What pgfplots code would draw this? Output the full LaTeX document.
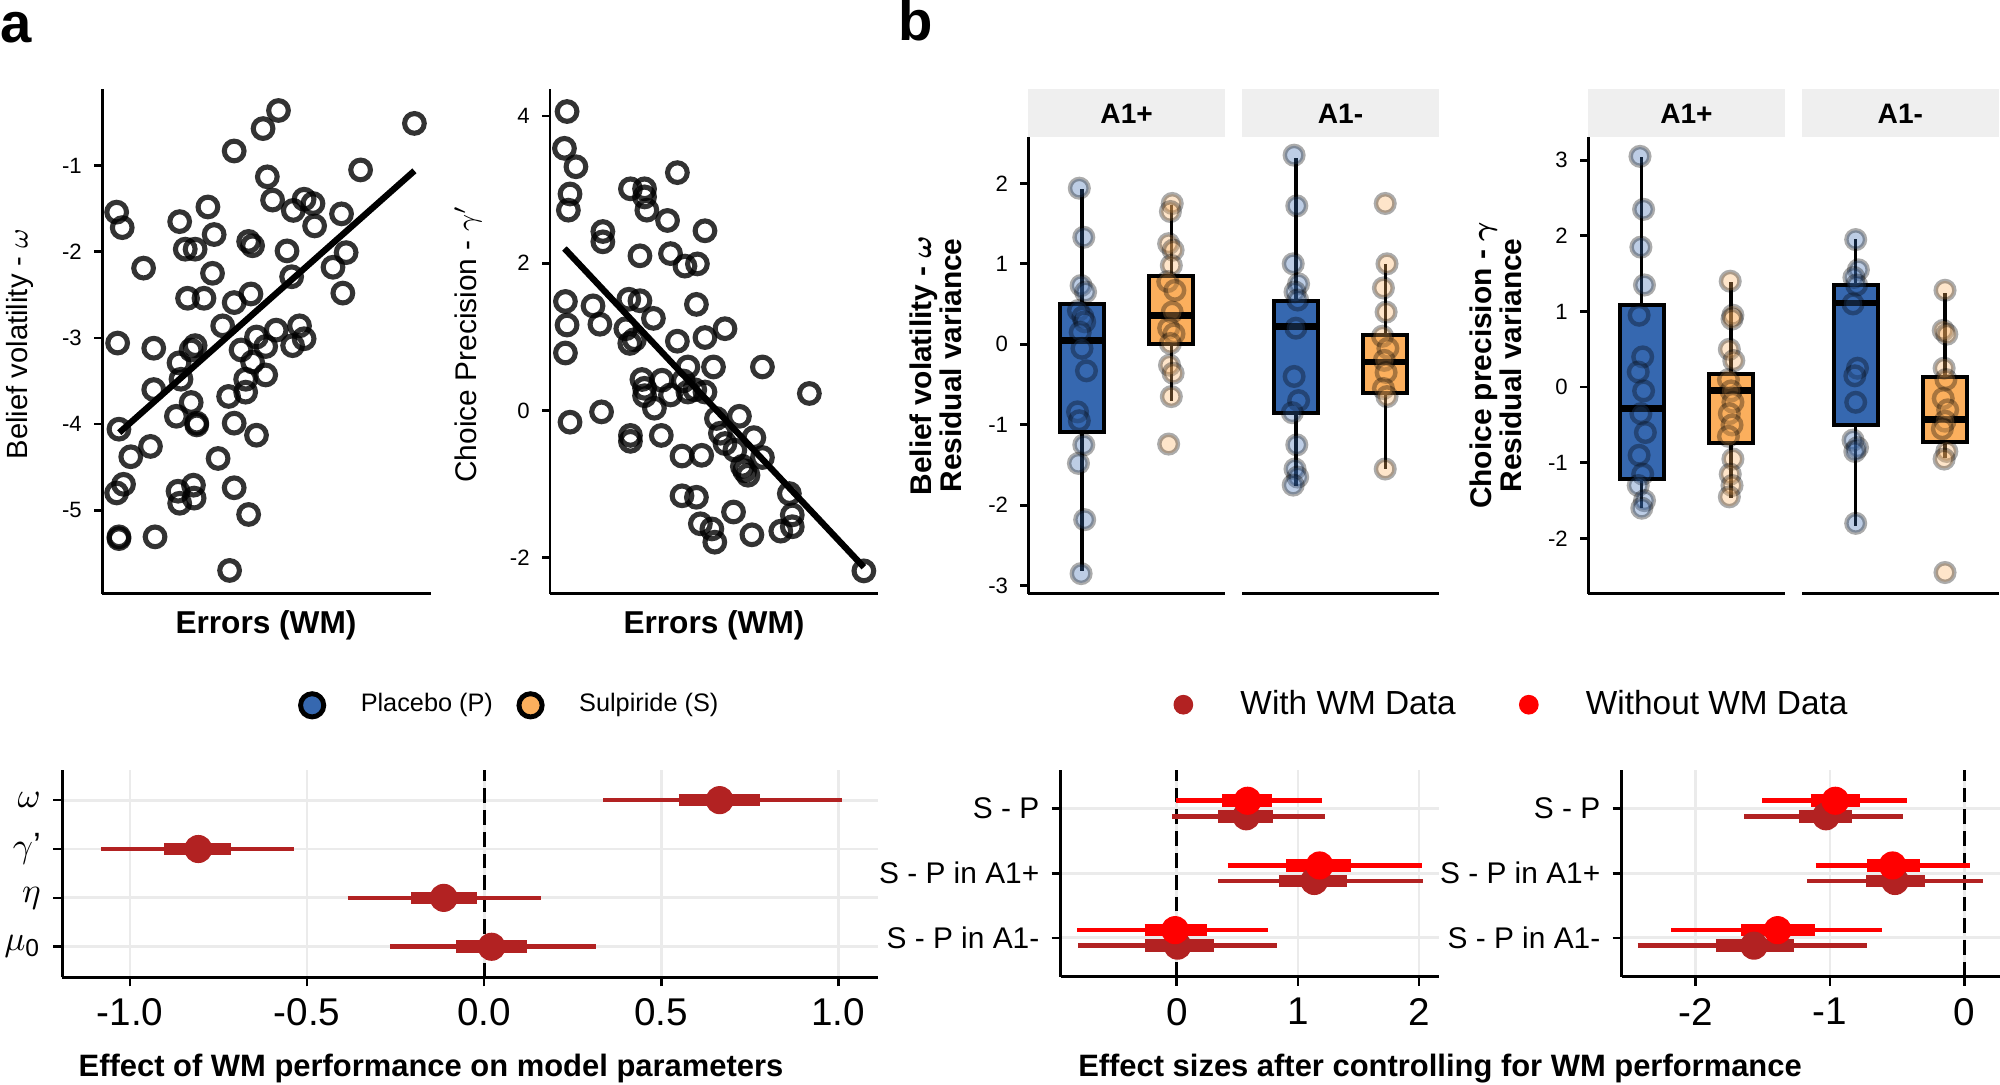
\documentclass[border=0pt]{standalone}
\usepackage{fontspec}
\setmainfont{Liberation Sans}
\usepackage{amsmath}
\usepackage{pgfplots}
\pgfplotsset{compat=1.18}
\usepgfplotslibrary{statistics}

\definecolor{pblue}{HTML}{3668B0}
\definecolor{sorange}{HTML}{FBAF5D}
\definecolor{withwm}{HTML}{B22222}
\definecolor{withoutwm}{HTML}{FF0000}
\definecolor{stripgrey}{HTML}{EFEFEF}
\definecolor{gridgrey}{HTML}{EBEBEB}

\newcommand\fs[1]{\fontsize{#1}{#1}\selectfont}

\pgfplotsset{
  panel/.style={
    scale only axis, anchor=south west,
    axis line style={-, line width=0.77pt},
    tick align=outside, major tick length=0.08cm,
    every tick/.style={black, line width=0.77pt},
    /pgf/number format/assume math mode=true,
  },
  scatterpanel/.style={panel, xmin=0, xmax=100, xtick=\empty,
    axis x line*=bottom, axis y line*=left,
    yticklabel style={font=\fs{6.3}},
    width=3.283cm, height=5.05cm},
  facet/.style={panel, xmin=0.4, xmax=2.6, xtick=\empty,
    axis x line*=bottom, width=1.965cm, height=4.57cm,
    yticklabel style={font=\fs{6.3}}},
  ring/.style={only marks, mark=o, mark size=2.8pt,
    mark options={draw=black, draw opacity=0.8, line width=1.45pt}},
  jit/.style={only marks, mark=*, mark size=2.65pt, forget plot,
    mark options={fill=#1, draw=black, line width=1.25pt, opacity=0.33}},
  bx/.style={fill=#1, draw=black, line width=1.14pt, forget plot},
  forest/.style={panel, axis x line*=bottom, axis y line*=left,
    height=2.07cm, xmajorgrids, ymajorgrids,
    grid style={gridgrey, line width=0.8pt},
    major tick length=0.09cm,
    xticklabel style={font=\fs{11}},
    yticklabel style={font=\fs{8.5}}},
  thinci/.style={#1, line width=1.3pt, unbounded coords=jump, forget plot},
  thickci/.style={#1, line width=3.6pt, unbounded coords=jump, forget plot},
  dot/.style={only marks, mark=*, mark size=3.8pt, color=#1, forget plot},
  zeroline/.style={black, line width=0.9pt, dash pattern=on 4.2pt off 2pt, forget plot},
  boxplot/draw direction=y,
  boxplot/box extend=0.49,
  boxplot/whisker extend=0,
  boxplot/every median/.style={line width=1.9pt},
  boxplot/every whisker/.style={line width=0.95pt},
}

\begin{document}
\begin{tikzpicture}
\useasboundingbox (0,0) rectangle (20,10.84);

% ---------------- panel a ----------------
\node[anchor=base west, inner sep=0, font=\fs{16}\bfseries] at (0.0,10.42) {a};
\node[anchor=base west, inner sep=0, font=\fs{16}\bfseries] at (8.98,10.44) {b};

\begin{axis}[scatterpanel, at={(1.022cm,4.903cm)},
  ymin=-5.97, ymax=-0.107, ytick={-5,-4,-3,-2,-1}]
\addplot[ring] coordinates {
(95.1,-0.51) (53.7,-0.36) (49.0,-0.57) (40.2,-0.83) (78.7,-1.05) (4.4,-1.54)
(6.1,-1.72) (50.3,-1.13) (51.9,-1.40) (32.2,-1.48) (23.6,-1.65) (34.1,-1.80)
(58.2,-1.52) (61.5,-1.39) (64.2,-1.44) (64.7,-1.70) (72.9,-1.56) (74.3,-2.01)
(70.3,-2.18) (73.3,-2.48) (12.6,-2.19) (25.3,-1.97) (28.3,-1.97) (44.6,-1.88)
(45.8,-1.93) (56.3,-1.99) (57.7,-2.29) (33.6,-2.25) (26.0,-2.54) (31.0,-2.54)
(45.3,-2.49) (40.2,-2.59) (36.7,-2.86) (53.0,-2.91) (60.1,-2.86) (61.5,-3.01)
(58.0,-3.09) (47.0,-2.99) (49.8,-3.10) (42.3,-3.14) (45.8,-3.28) (4.7,-3.06)
(15.7,-3.12) (28.3,-3.09) (27.1,-3.14) (23.4,-3.29) (49.8,-3.43) (43.7,-3.48)
(24.0,-3.48) (15.7,-3.60) (43.7,-3.63) (38.5,-3.68) (27.1,-3.75) (22.6,-3.91)
(28.8,-3.99) (28.8,-4.01) (40.2,-3.99) (47.0,-4.13) (5.1,-4.06) (8.7,-4.38)
(14.7,-4.26) (35.3,-4.40) (6.5,-4.70) (4.4,-4.80) (23.1,-4.78) (27.8,-4.71)
(23.6,-4.92) (28.0,-4.86) (40.2,-4.74) (44.6,-5.05) (5.1,-5.31) (5.1,-5.33)
(16.1,-5.31) (38.8,-5.70)
};
\addplot[black, line width=1.8pt] coordinates {(5.2,-4.10) (95.1,-1.06)};
\end{axis}
\node[rotate=90, font=\fs{8.3}] at (0.20,7.40) {Belief volatility - $\omega$};
\node[font=\fs{9}\bfseries] at (2.66,4.59) {Errors (WM)};

\begin{axis}[scatterpanel, at={(5.50cm,4.903cm)},
  ymin=-2.49, ymax=4.37, ytick={-2,0,2,4}]
\addplot[ring] coordinates {
(5.2,4.06) (4.4,3.56) (7.9,3.31) (6.1,2.94) (5.6,2.72) (38.8,3.23) (24.5,3.01)
(28.8,3.01) (28.8,2.90) (29.5,2.72) (35.8,2.58) (16.1,2.43) (16.1,2.29)
(47.2,2.44) (27.4,2.10) (36.7,2.13) (41.1,1.96) (44.9,1.99) (4.7,1.48)
(13.1,1.42) (5.2,1.16) (15.2,1.17) (24.0,1.51) (27.4,1.49) (31.5,1.25)
(44.6,1.44) (53.3,1.11) (23.1,1.11) (24.3,0.91) (25.7,0.96) (38.8,0.94)
(47.2,0.99) (4.7,0.78) (42.0,0.59) (49.8,0.59) (64.7,0.59) (28.0,0.42)
(34.1,0.41) (28.8,0.30) (28.8,0.20) (40.6,0.40) (44.1,0.28) (36.7,0.21)
(42.0,0.25) (47.2,0.25) (31.8,0.03) (79.0,0.23) (6.1,-0.16) (15.7,-0.02)
(24.5,-0.34) (24.5,-0.42) (33.9,-0.34) (50.7,-0.11) (57.7,-0.08) (51.9,-0.31)
(53.3,-0.45) (62.1,-0.37) (40.2,-0.62) (46.2,-0.61) (56.3,-0.54) (64.7,-0.64)
(58.6,-0.76) (60.3,-0.88) (59.3,-0.82) (40.2,-1.16) (44.6,-1.18) (72.9,-1.13)
(55.9,-1.38) (45.8,-1.54) (49.3,-1.61) (50.2,-1.79) (61.5,-1.69) (70.3,-1.64)
(73.8,-1.58) (73.8,-1.42) (95.6,-2.18)
};
\addplot[black, line width=1.8pt] coordinates {(4.4,2.20) (95.6,-2.13)};
\end{axis}
\node[rotate=90, font=\fs{8.5}] at (4.68,7.40) {Choice Precision - $\gamma'$};
\node[font=\fs{9}\bfseries] at (7.14,4.59) {Errors (WM)};

% ---------------- panel b ----------------
\foreach \x in {10.284,12.423,15.882,18.021}{
  \fill[stripgrey] (\x,9.473) rectangle ++(1.965,0.479);
}
\foreach \x/\t in {10.284/A1+,12.423/A1-,15.882/A1+,18.021/A1-}{
  \node[font=\fs{8}\bfseries] at (\x+0.9825,9.70) {\t};
}

\begin{axis}[facet, at={(10.284cm,4.903cm)}, axis y line*=left,
  ymin=-3.10, ymax=2.58, ytick={-3,-2,-1,0,1,2}]
\addplot[bx=pblue, boxplot prepared={draw position=1,
    lower whisker=-2.82, lower quartile=-1.09, median=0.05,
    upper quartile=0.50, upper whisker=1.93}] coordinates {};
\addplot[bx=sorange, boxplot prepared={draw position=2,
    lower whisker=-0.70, lower quartile=0.00, median=0.36,
    upper quartile=0.85, upper whisker=1.73}] coordinates {};
\addplot[jit=pblue] coordinates {
(0.97,1.94) (1.02,1.33) (0.99,0.73) (1.04,0.65) (0.96,0.42) (1.01,0.34)
(1.03,0.28) (0.98,0.15) (1.00,-0.05) (1.05,-0.33) (0.95,-0.84) (0.97,-0.95)
(1.02,-1.25) (0.96,-1.48) (1.03,-2.18) (0.99,-2.85)};
\addplot[jit=sorange] coordinates {
(2.01,1.75) (1.99,1.65) (1.97,1.25) (2.02,1.17) (2.00,0.98) (1.96,0.78)
(2.04,0.67) (2.01,0.40) (1.97,0.20) (2.03,0.13) (1.99,0.01) (1.98,-0.26)
(2.02,-0.36) (2.00,-0.65) (1.97,-1.24)};
\end{axis}

\begin{axis}[facet, at={(12.423cm,4.903cm)}, axis y line=none,
  ymin=-3.10, ymax=2.58, ytick=\empty]
\addplot[bx=pblue, boxplot prepared={draw position=1,
    lower whisker=-1.76, lower quartile=-0.85, median=0.22,
    upper quartile=0.54, upper whisker=2.32}] coordinates {};
\addplot[bx=sorange, boxplot prepared={draw position=2,
    lower whisker=-1.55, lower quartile=-0.61, median=-0.22,
    upper quartile=0.11, upper whisker=1.00}] coordinates {};
\addplot[jit=pblue] coordinates {
(0.98,2.35) (1.01,1.72) (0.97,1.00) (1.03,0.75) (0.99,0.65) (1.02,0.55)
(1.00,0.20) (0.98,-0.40) (1.03,-0.70) (0.96,-0.85) (1.01,-1.25) (0.99,-1.55)
(1.02,-1.65) (0.97,-1.75)};
\addplot[jit=sorange] coordinates {
(2.00,1.75) (2.02,1.00) (1.98,0.70) (2.01,0.40) (1.97,0.10) (2.03,-0.05)
(1.99,-0.20) (2.01,-0.35) (1.98,-0.55) (2.02,-0.65) (2.00,-1.55)};
\end{axis}
\node[rotate=90, align=center, font=\fontsize{8.5}{8.6}\selectfont\bfseries\boldmath]
  at (9.355,7.185) {Belief volatility - $\omega$\\Residual variance};

\begin{axis}[facet, at={(15.882cm,4.903cm)}, axis y line*=left,
  ymin=-2.73, ymax=3.31, ytick={-2,-1,0,1,2,3}]
\addplot[bx=pblue, boxplot prepared={draw position=1,
    lower whisker=-1.60, lower quartile=-1.21, median=-0.28,
    upper quartile=1.08, upper whisker=3.04}] coordinates {};
\addplot[bx=sorange, boxplot prepared={draw position=2,
    lower whisker=-1.46, lower quartile=-0.74, median=-0.04,
    upper quartile=0.18, upper whisker=1.39}] coordinates {};
\addplot[jit=pblue] coordinates {
(0.98,3.05) (1.02,2.35) (0.99,1.85) (1.03,1.35) (0.97,0.95) (1.01,0.40)
(0.96,0.20) (1.02,-0.05) (0.99,-0.35) (1.04,-0.60) (0.97,-0.90) (1.01,-1.15)
(0.96,-1.30) (1.03,-1.50) (1.00,-1.60)};
\addplot[jit=sorange] coordinates {
(1.99,1.40) (2.02,0.95) (2.01,0.90) (1.98,0.50) (2.03,0.35) (1.97,0.10)
(2.00,-0.05) (2.02,-0.20) (1.98,-0.35) (2.01,-0.50) (1.97,-0.65) (2.02,-0.95)
(1.99,-1.15) (2.01,-1.30) (1.98,-1.45)};
\end{axis}

\begin{axis}[facet, at={(18.021cm,4.903cm)}, axis y line=none,
  ymin=-2.73, ymax=3.31, ytick=\empty]
\addplot[bx=pblue, boxplot prepared={draw position=1,
    lower whisker=-1.83, lower quartile=-0.50, median=1.11,
    upper quartile=1.35, upper whisker=1.96}] coordinates {};
\addplot[bx=sorange, boxplot prepared={draw position=2,
    lower whisker=-0.94, lower quartile=-0.73, median=-0.43,
    upper quartile=0.14, upper whisker=1.25}] coordinates {};
\addplot[jit=pblue] coordinates {
(1.00,1.95) (1.03,1.55) (0.98,1.45) (1.01,1.35) (0.97,1.10) (1.02,0.25)
(0.99,0.15) (1.00,-0.20) (0.97,-0.70) (1.02,-0.80) (0.99,-0.85) (1.00,-1.80)};
\addplot[jit=sorange] coordinates {
(2.00,1.28) (1.98,0.75) (2.02,0.70) (1.99,0.25) (2.01,0.10) (1.98,-0.15)
(2.03,-0.30) (2.00,-0.45) (1.97,-0.55) (2.02,-0.85) (1.99,-0.95) (2.00,-2.45)};
\end{axis}
\node[rotate=90, align=center, font=\fontsize{8.5}{8.6}\selectfont\bfseries\boldmath]
  at (14.96,7.185) {Choice precision - $\gamma$\\Residual variance};

% ---------------- bottom forest plots ----------------
\begin{axis}[forest, at={(0.623cm,1.067cm)}, width=8.16cm,
  xmin=-1.191, xmax=1.113, ymin=0.375, ymax=4.61,
  xtick={-1,-0.5,0,0.5,1},
  xticklabel style={/pgf/number format/.cd, fixed, fixed zerofill, precision=1},
  ytick={1,2,3,4},
  yticklabels={$\mu_{\text{0}}$, $\eta$, $\gamma$', $\omega$},
  yticklabel style={font=\fs{10}},
  legend style={draw=none, fill=none, at={(0.548,1.314)}, anchor=center,
    legend columns=-1, font=\fs{7.2}, nodes={inner sep=0pt},
    /tikz/every odd column/.append style={column sep=0.37cm},
    /tikz/every even column/.append style={column sep=0.26cm}}]
\addlegendimage{only marks, mark=*, mark size=3.3pt,
  mark options={fill=pblue, draw=black, line width=1.4pt}}
\addlegendentry{Placebo (P)}
\addlegendimage{only marks, mark=*, mark size=3.3pt,
  mark options={fill=sorange, draw=black, line width=1.4pt}}
\addlegendentry{Sulpiride (S)}
\addplot[zeroline] coordinates {(0,0.375) (0,4.61)};
\addplot[thinci=withwm] coordinates {
(0.336,4) (1.011,4) (0,nan) (-1.082,3) (-0.537,3) (0,nan)
(-0.385,2) (0.162,2) (0,nan) (-0.266,1) (0.317,1)};
\addplot[thickci=withwm] coordinates {
(0.549,4) (0.779,4) (0,nan) (-0.904,3) (-0.714,3) (0,nan)
(-0.207,2) (-0.019,2) (0,nan) (-0.078,1) (0.120,1)};
\addplot[dot=withwm] coordinates {(0.665,4) (-0.807,3) (-0.114,2) (0.021,1)};
\end{axis}
\node[anchor=base, font=\fs{8.8}\bfseries] at (4.31,0.073)
  {Effect of WM performance on model parameters};

\begin{axis}[forest, at={(10.607cm,1.073cm)}, width=3.783cm,
  xmin=-0.959, xmax=2.165, ymin=0.4, ymax=3.6,
  xtick={0,1,2}, ytick={1,2,3},
  yticklabels={S - P in A1-, S - P in A1+, S - P},
  legend style={draw=none, fill=none, at={(1.19,1.314)}, anchor=center,
    legend columns=-1, font=\fs{9.5}, nodes={inner sep=0pt},
    /tikz/every odd column/.append style={column sep=0.48cm},
    /tikz/every even column/.append style={column sep=0.64cm}}]
\addlegendimage{only marks, mark=*, mark size=2.6pt, color=withwm}
\addlegendentry{With WM Data}
\addlegendimage{only marks, mark=*, mark size=2.6pt, color=withoutwm}
\addlegendentry{Without WM Data}
\addplot[zeroline] coordinates {(0,0.4) (0,3.6)};
\addplot[thinci=withwm] coordinates {
(-0.041,2.88) (1.220,2.88) (0,nan) (0.344,1.88) (2.030,1.88) (0,nan)
(-0.818,0.88) (0.826,0.88)};
\addplot[thinci=withoutwm] coordinates {
(-0.005,3.12) (1.198,3.12) (0,nan) (0.419,2.12) (2.025,2.12) (0,nan)
(-0.821,1.12) (0.749,1.12)};
\addplot[thickci=withwm] coordinates {
(0.344,2.88) (0.793,2.88) (0,nan) (0.843,1.88) (1.408,1.88) (0,nan)
(-0.267,0.88) (0.303,0.88)};
\addplot[thickci=withoutwm] coordinates {
(0.375,3.12) (0.782,3.12) (0,nan) (0.900,2.12) (1.440,2.12) (0,nan)
(-0.267,1.12) (0.248,1.12)};
\addplot[dot=withwm] coordinates {(0.573,2.88) (1.135,1.88) (0.006,0.88)};
\addplot[dot=withoutwm] coordinates {(0.584,3.12) (1.179,2.12) (-0.014,1.12)};
\end{axis}
\node[anchor=base, font=\fs{8.8}\bfseries] at (14.40,0.073)
  {Effect sizes after controlling for WM performance};

\begin{axis}[forest, at={(16.217cm,1.073cm)}, width=3.783cm,
  xmin=-2.551, xmax=0.266, ymin=0.4, ymax=3.6,
  xtick={-2,-1,0}, ytick={1,2,3},
  yticklabels={S - P in A1-, S - P in A1+, S - P}]
\addplot[zeroline] coordinates {(0,0.4) (0,3.6)};
\addplot[thinci=withwm] coordinates {
(-1.638,2.88) (-0.459,2.88) (0,nan) (-1.169,1.88) (0.136,1.88) (0,nan)
(-2.432,0.88) (-0.722,0.88)};
\addplot[thinci=withoutwm] coordinates {
(-1.504,3.12) (-0.429,3.12) (0,nan) (-1.107,2.12) (0.042,2.12) (0,nan)
(-2.184,1.12) (-0.615,1.12)};
\addplot[thickci=withwm] coordinates {
(-1.233,2.88) (-0.836,2.88) (0,nan) (-0.732,1.88) (-0.293,1.88) (0,nan)
(-1.851,0.88) (-1.266,0.88)};
\addplot[thickci=withoutwm] coordinates {
(-1.144,3.12) (-0.777,3.12) (0,nan) (-0.722,2.12) (-0.330,2.12) (0,nan)
(-1.663,1.12) (-1.112,1.12)};
\addplot[dot=withwm] coordinates {(-1.030,2.88) (-0.516,1.88) (-1.566,0.88)};
\addplot[dot=withoutwm] coordinates {(-0.960,3.12) (-0.534,2.12) (-1.390,1.12)};
\end{axis}
\end{tikzpicture}
\end{document}
